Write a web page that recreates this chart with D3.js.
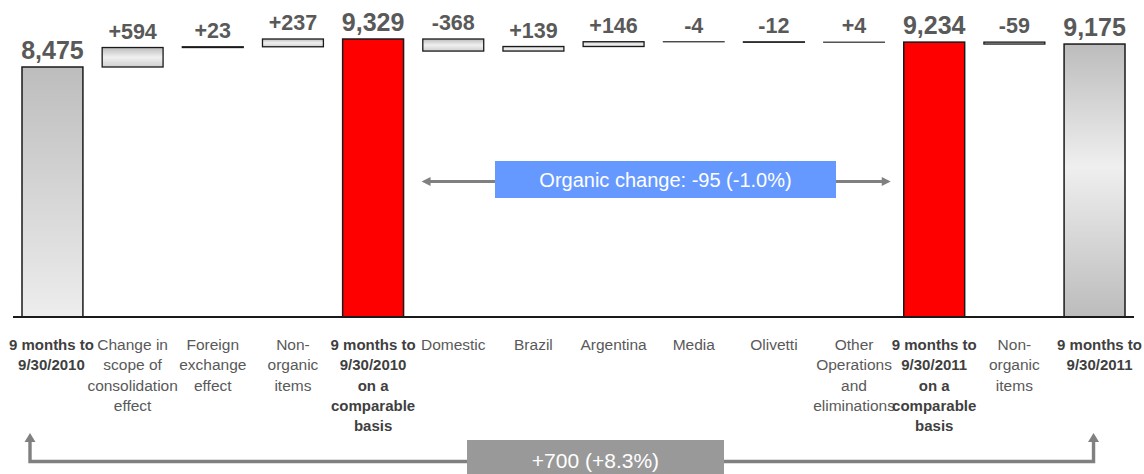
<!DOCTYPE html>
<html>
<head>
<meta charset="utf-8">
<script src="https://cdn.jsdelivr.net/npm/d3@7"></script>
<style>
  body { margin: 0; background: #fff; }
  svg { display: block; }
  text { font-family: "Liberation Sans", Arial, sans-serif; }
</style>
</head>
<body>
<svg id="chart" width="1144" height="474"></svg>
<script>
// Revenue bridge, 9 months to 9/30/2010 -> 9 months to 9/30/2011 (€ millions)
const categories = [
  "9M2010", "Scope", "FX", "NonOrganic2010", "9M2010Comparable",
  "Domestic", "Brazil", "Argentina", "Media", "Olivetti", "Other",
  "9M2011Comparable", "NonOrganic2011", "9M2011"
];
const categoryLines = [
  ["9 months to", "9/30/2010"],
  ["Change in", "scope of", "consolidation", "effect"],
  ["Foreign", "exchange", "effect"],
  ["Non-", "organic", "items"],
  ["9 months to", "9/30/2010", "on a", "comparable", "basis"],
  ["Domestic"],
  ["Brazil"],
  ["Argentina"],
  ["Media"],
  ["Olivetti"],
  ["Other", "Operations", "and", "eliminations"],
  ["9 months to", "9/30/2011", "on a", "comparable", "basis"],
  ["Non-", "organic", "items"],
  ["9 months to", "9/30/2011"]
];
// "start" / "end" = reported totals, "sub" = comparable-basis totals, "delta" = changes
const kinds = ["start", "delta", "delta", "delta", "sub", "delta", "delta", "delta",
               "delta", "delta", "delta", "sub", "delta", "end"];
const values = [8475, 594, 23, 237, 9329, -368, 139, 146, -4, -12, 4, 9234, -59, 9175];
const axisFloor = 850;

// Build the waterfall segments
let running = 0;
const bars = categories.map((c, i) => {
  const v = values[i], k = kinds[i];
  let from, to;
  if (k === "delta") { from = running; to = running + v; running = to; }
  else { from = axisFloor; to = v; running = v; }
  return { cat: c, kind: k, value: v, from, to, lines: categoryLines[i] };
});

const svg = d3.select("#chart");
const baseline = 317;

const x = d3.scaleBand().domain(categories).range([22, 1125]).paddingInner(0.24).paddingOuter(0);
const y = d3.scaleLinear().domain([axisFloor, 9329]).range([baseline, 39]);

// Gradients
const defs = svg.append("defs");
function grad(id, stops) {
  const g = defs.append("linearGradient").attr("id", id)
    .attr("x1", 0).attr("y1", 0).attr("x2", 0).attr("y2", 1);
  stops.forEach(([o, c]) => g.append("stop").attr("offset", o).attr("stop-color", c));
}
grad("gStart", [[0, "#bdbdbd"], [1, "#ededed"]]);
grad("gEnd", [[0, "#bcbcbc"], [0.45, "#efefef"], [1, "#bcbcbc"]]);
grad("gDelta", [[0, "#bdbdbd"], [0.5, "#f0f0f0"], [1, "#d0d0d0"]]);
const fills = { start: "url(#gStart)", end: "url(#gEnd)", delta: "url(#gDelta)", sub: "#ff0000" };

// Bars
svg.append("g").selectAll("rect").data(bars).join("rect")
  .attr("x", d => x(d.cat))
  .attr("width", x.bandwidth())
  .attr("y", d => y(Math.max(d.from, d.to)))
  .attr("height", d => Math.abs(y(d.from) - y(d.to)))
  .attr("fill", d => fills[d.kind])
  .attr("stroke", "#1a1a1a")
  .attr("stroke-width", d => d.kind === "delta" ? (Math.abs(d.value) < 10 ? 1 : 1.3) : 1.5);

// Baseline
svg.append("line")
  .attr("x1", 13).attr("x2", 1134).attr("y1", baseline).attr("y2", baseline)
  .attr("stroke", "#1a1a1a").attr("stroke-width", 2);

// Value labels
const fmtTotal = d3.format(",");
const fmtDelta = v => (v > 0 ? "+" : "-") + Math.abs(v);
svg.append("g").selectAll("text").data(bars).join("text")
  .attr("x", d => x(d.cat) + x.bandwidth() / 2)
  .attr("y", d => y(Math.max(d.from, d.to)) - (d.kind === "delta" ? 9 : 8))
  .attr("text-anchor", "middle")
  .attr("fill", "#595959")
  .attr("font-weight", "bold")
  .attr("font-size", d => d.kind === "delta" ? 21.5 : 25)
  .text(d => d.kind === "delta" ? fmtDelta(d.value) : fmtTotal(d.value));

// Category labels
const catG = svg.append("g").selectAll("text").data(bars).join("text")
  .attr("text-anchor", "middle")
  .attr("font-size", d => d.kind === "delta" ? 15.5 : 15)
  .attr("font-weight", d => d.kind === "delta" ? "normal" : "bold")
  .attr("fill", d => d.kind === "delta" ? "#595959" : "#3f3f3f");
catG.selectAll("tspan")
  .data((d, i) => d.lines.map(l => ({ l, cx: x(d.cat) + x.bandwidth() / 2 + (i === 0 ? -1 : i === 13 ? 5 : 0) })))
  .join("tspan")
  .attr("x", d => d.cx)
  .attr("y", (d, i) => 350 + i * 20.3)
  .text(d => d.l);

// Arrowhead helper
const arrowColor = "#808080";
function arrowHead(tx, ty, dir) {
  const s = 5.5, L = 9;
  let pts;
  if (dir === "left") pts = [[tx, ty], [tx + L, ty - s + 1], [tx + L, ty + s - 1]];
  else if (dir === "right") pts = [[tx, ty], [tx - L, ty - s + 1], [tx - L, ty + s - 1]];
  else pts = [[tx, ty], [tx - s, ty + L], [tx + s, ty + L]];
  svg.append("polygon").attr("points", pts.map(p => p.join(",")).join(" ")).attr("fill", arrowColor);
}

// Organic change annotation between the two comparable-basis totals
const subA = bars[4], subB = bars[11];
const organic = subB.value - subA.value;
const organicPct = organic / subA.value * 100;
const oy = 181.5;
const oLeft = x(subA.cat) + x.bandwidth() + 18, oRight = x(subB.cat) - 13;
svg.append("line").attr("x1", oLeft + 6).attr("x2", oRight - 6).attr("y1", oy).attr("y2", oy)
  .attr("stroke", arrowColor).attr("stroke-width", 3.2);
arrowHead(oLeft, oy, "left");
arrowHead(oRight, oy, "right");
svg.append("rect").attr("x", 495).attr("y", 161).attr("width", 341).attr("height", 37).attr("fill", "#6699ff");
svg.append("text").attr("x", 665.5).attr("y", 187).attr("text-anchor", "middle")
  .attr("font-size", 20).attr("fill", "#ffffff")
  .text(`Organic change: ${fmtDelta(organic)} (${organic < 0 ? "-" : "+"}${Math.abs(organicPct).toFixed(1)}%)`);

// Reported change annotation between the two reported totals
const first = bars[0], last = bars[13];
const reported = last.value - first.value;
const reportedPct = reported / first.value * 100;
const by = 461.5, bTop = 433;
const bLeft = x(first.cat) + 8, bRight = x(last.cat) + x.bandwidth() / 2 - 1;
svg.append("path")
  .attr("d", `M${bLeft},${bTop + 6} V${by} H${bRight} V${bTop + 6}`)
  .attr("fill", "none").attr("stroke", arrowColor).attr("stroke-width", 3.4);
arrowHead(bLeft, bTop, "up");
arrowHead(bRight, bTop, "up");
svg.append("rect").attr("x", 467).attr("y", 440).attr("width", 257).attr("height", 40).attr("fill", "#999999");
svg.append("text").attr("x", 595.5).attr("y", 467.5).attr("text-anchor", "middle")
  .attr("font-size", 21).attr("fill", "#ffffff")
  .text(`${fmtDelta(reported)} (${reported < 0 ? "-" : "+"}${Math.abs(reportedPct).toFixed(1)}%)`);
</script>
</body>
</html>
